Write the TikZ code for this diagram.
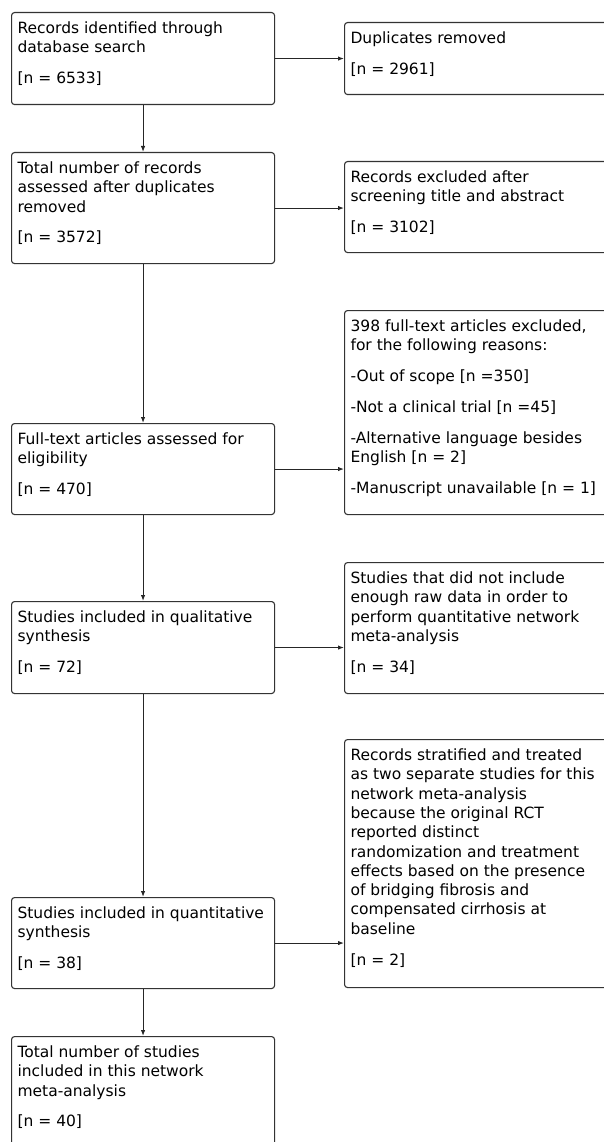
\documentclass[tikz,border=0pt]{standalone}
\usepackage{fontspec}
\setmainfont{DejaVu Sans}
\usetikzlibrary{arrows.meta}

\def\ngap{11.5pt}
\newcommand{\stagetext}[3][251pt]{\parbox[t][#2pt][t]{#1}{\raggedright\rule{0pt}{21pt}#3}}

\begin{document}
\begin{tikzpicture}[x=1pt, y=-1pt,
    stage/.style = {draw=black!80, line width=1.1pt, rounded corners=3pt, anchor=north west,
                    inner xsep=6pt, inner ysep=0pt, font=\fontsize{15.5pt}{19.3pt}\selectfont},
    flow/.style = {-{Latex[length=6pt,width=4.5pt]}, line width=1.1pt, draw=black!85}]
        \useasboundingbox (0,0) rectangle (604,1142);
        \clip (0,0) rectangle (604,1142);

        % main column
        \node[stage] (search) at (11,12) {\stagetext{92}{Records identified through\\ database search\\[\ngap] [n = 6533]}};
        \node[stage] (screen) at (11,152) {\stagetext{111}{Total number of records\\ assessed after duplicates\\ removed\\[\ngap] [n = 3572]}};
        \node[stage] (fulltext) at (11,423) {\stagetext{91}{Full-text articles assessed for\\ eligibility\\[\ngap] [n = 470]}};
        \node[stage] (qual) at (11,601) {\stagetext{92}{Studies included in qualitative\\ synthesis\\[\ngap] [n = 72]}};
        \node[stage] (quant) at (11,897) {\stagetext{91}{Studies included in quantitative\\ synthesis\\[\ngap] [n = 38]}};
        \node[stage] (total) at (11,1036) {\stagetext{130}{Total number of studies\\ included in this network\\ meta-analysis\\[\ngap] [n = 40]}};

        % exclusions
        \node[stage] (dupl) at (344,22) {\stagetext[270pt]{72}{Duplicates removed\\[\ngap] [n = 2961]}};
        \node[stage] (exabs) at (344,161) {\stagetext[270pt]{91}{Records excluded after\\ screening title and abstract\\[\ngap] [n = 3102]}};
        \node[stage] (exfull) at (344,310) {\stagetext[270pt]{204}{398 full-text articles excluded,\\ for the following reasons:\\[\ngap] -Out of scope [n =350]\\[\ngap] -Not a clinical trial [n =45]\\[\ngap] -Alternative language besides\\ English [n = 2]\\[\ngap] -Manuscript unavailable [n = 1]}};
        \node[stage] (exdata) at (344,562) {\stagetext[270pt]{131}{Studies that did not include\\ enough raw data in order to\\ perform quantitative network\\ meta-analysis\\[\ngap] [n = 34]}};
        \node[stage] (strat) at (344,739) {\stagetext[270pt]{248}{Records stratified and treated\\ as two separate studies for this\\ network meta-analysis\\ because the original RCT\\ reported distinct\\ randomization and treatment\\ effects based on the presence\\ of bridging fibrosis and\\ compensated cirrhosis at\\ baseline\\[\ngap] [n = 2]}};

        \draw[flow] (search) -- (screen);
        \draw[flow] (screen) -- (fulltext);
        \draw[flow] (fulltext) -- (qual);
        \draw[flow] (qual) -- (quant);
        \draw[flow] (quant) -- (total);

        \draw[flow] (search.east) -- (search.east -| dupl.west);
        \draw[flow] (screen.east) -- (screen.east -| exabs.west);
        \draw[flow] (fulltext.east) -- (fulltext.east -| exfull.west);
        \draw[flow] (qual.east) -- (qual.east -| exdata.west);
        \draw[flow] (quant.east) -- (quant.east -| strat.west);
    \end{tikzpicture}
\end{document}
